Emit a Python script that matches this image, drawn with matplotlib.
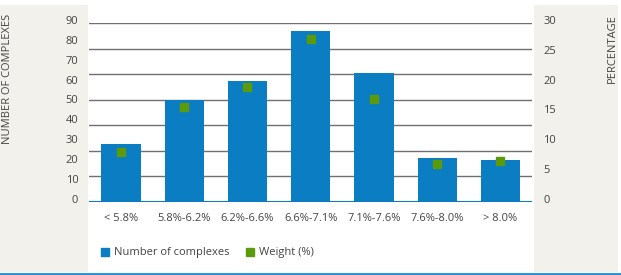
import numpy as np
import matplotlib
matplotlib.use("Agg")
import matplotlib.pyplot as plt
from matplotlib.patches import Rectangle
from matplotlib.lines import Line2D
from matplotlib.transforms import ScaledTranslation

# data
categories = ["< 5.8%", "5.8%-6.2%", "6.2%-6.6%", "6.6%-7.1%", "7.1%-7.6%", "7.6%-8.0%", "> 8.0%"]
complexes = [29, 51, 61, 86, 65, 22, 21]
weight_pct = [8.3, 15.9, 19.2, 27.3, 17.2, 6.4, 6.8]
left_ticks = list(range(0, 100, 10))
right_ticks = list(range(0, 35, 5))

blue = "#0b7dc3"
green = "#5b9a0a"
panel = "#f2f1ec"
txt = "#444444"

plt.rcParams["font.family"] = ["Open Sans", "DejaVu Sans"]

fig = plt.figure(figsize=(6.21, 2.75), dpi=100)

# grey side panels + bottom rule (behind the axes)
fig.patches.append(Rectangle((0, 0.011), 88 / 621, 0.971, transform=fig.transFigure,
                             facecolor=panel, edgecolor="none", zorder=-1))
fig.patches.append(Rectangle((534 / 621, 0.011), 84 / 621, 0.971, transform=fig.transFigure,
                             facecolor=panel, edgecolor="none", zorder=-1))
fig.add_artist(Line2D([0, 1], [0.005, 0.005], transform=fig.transFigure, color="#1a8fd6", lw=2))

ax = fig.add_axes([89.4 / 621, 1 - 201.7 / 275, (532 - 89.4) / 621, (201.7 - 23) / 275])
ax.set_facecolor("none")
x = np.arange(len(categories))
ax.bar(x, complexes, width=0.62, color=blue, zorder=3)
ax.set_xlim(-0.5, len(categories) - 0.5)
ax.set_ylim(0, 90)

# horizontal rules (7 even bands)
for g in np.linspace(0, 90, 8)[1:]:
    ax.axhline(g, color="#707070", lw=1, zorder=1)
ax.axhline(0, color=blue, lw=2.2, zorder=4)

for s in ax.spines.values():
    s.set_visible(False)
ax.set_yticks(left_ticks)
ax.set_xticks(x)
ax.set_xticklabels(categories)
ax.tick_params(axis="both", length=0, labelsize=8, labelcolor=txt)
ax.tick_params(axis="x", pad=8)
ax.tick_params(axis="y", pad=8)

ax2 = ax.twinx()
ax2.set_ylim(0, 30)
ax2.set_yticks(right_ticks)
ax2.plot(x, weight_pct, linestyle="none", marker="s", markersize=5.2,
         color=green, zorder=5)
for s in ax2.spines.values():
    s.set_visible(False)
ax2.tick_params(axis="y", length=0, labelsize=8, labelcolor=txt, pad=8)

# nudge y labels up a little like the original
shift = ScaledTranslation(0, 0.03, fig.dpi_scale_trans)
for lab in ax.get_yticklabels() + ax2.get_yticklabels():
    lab.set_transform(lab.get_transform() + shift)

fig.text(8 / 621, 1 - 14 / 275, "NUMBER OF COMPLEXES", rotation=90, ha="center", va="top",
         fontsize=8, color=txt)
fig.text(612 / 621, 1 - 14 / 275, "PERCENTAGE", rotation=90, ha="center", va="top",
         fontsize=8, color=txt)

handles = [Line2D([], [], linestyle="none", marker="s", markersize=6, color=blue),
           Line2D([], [], linestyle="none", marker="s", markersize=6, color=green)]
fig.legend(handles, ["Number of complexes", "Weight (%)"], loc="center left",
           bbox_to_anchor=(91 / 621, 1 - 253 / 275), ncol=2, frameon=False,
           fontsize=8, labelcolor=txt, handlelength=0.8, handletextpad=0.4,
           columnspacing=1.4)

fig.savefig("out.png", dpi=100)
